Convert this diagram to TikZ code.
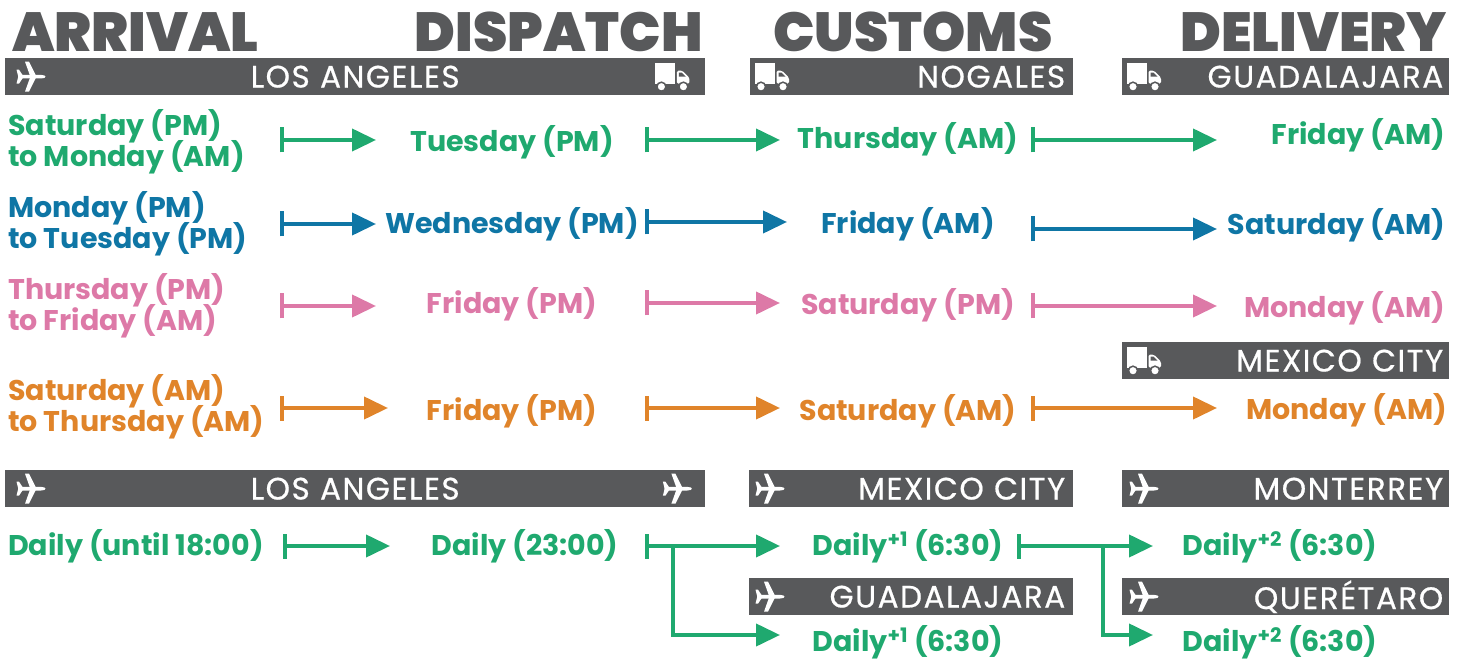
\documentclass[tikz,border=0pt]{standalone}
\usepackage{fontspec}
\setmainfont{Poppins}
\IfFontExistsTF{Poppins Black}
    {\newfontfamily\headfont{Poppins Black}}
    {\newfontfamily\headfont{Poppins ExtraBold}}
\newfontfamily\barfont{Poppins}[LetterSpace=5,FakeBold=0.6]
\usetikzlibrary{arrows.meta}
\definecolor{bargrey}{HTML}{58595B}
\definecolor{rgreen}{HTML}{1FA96F}
\definecolor{rblue}{HTML}{0F76A5}
\definecolor{rpink}{HTML}{DD79A7}
\definecolor{rorange}{HTML}{E0842A}
\begin{document}
\begin{tikzpicture}[x=1pt,y=-1pt,
    head/.style={font=\headfont\fontsize{55}{58}\selectfont,text=bargrey,
        inner sep=0pt,text depth=0pt},
    bar/.style={fill=bargrey,text=white,font=\barfont\fontsize{31}{33}\selectfont,
        minimum height=37pt,inner sep=0pt,anchor=north west},
    day/.style={font={\fontsize{28.5}{31}\selectfont\bfseries\lineskiplimit -20pt},
        inner sep=0pt,align=left},
    conn/.style={line width=4pt,{Bar[width=25pt]}-{Triangle[length=24pt,width=22pt]}},
    fork/.style={line width=4pt,-{Triangle[length=24pt,width=22pt]}},
    plane/.pic={
        \fill[white] (-15,-1.8) -- (8,-1.8) .. controls (14,-1.8) and (14,1.8) .. (8,1.8) -- (-15,1.8) -- cycle;
        \fill[white] (3,-1) -- (-4,-15) -- (-8,-15) -- (-3,-1) -- cycle;
        \fill[white] (3,1) -- (-4,15) -- (-8,15) -- (-3,1) -- cycle;
        \fill[white] (-10,-1) -- (-14,-7) -- (-16.5,-7) -- (-15,-1) -- cycle;
        \fill[white] (-10,1) -- (-14,7) -- (-16.5,7) -- (-15,1) -- cycle;},
    truck/.pic={
        \fill[white] (-17,-14) rectangle (3,7);
        \fill[white,rounded corners=1.5pt] (4.5,-6) -- (10,-6) -- (17,1) -- (17,7) -- (4.5,7) -- cycle;
        \fill[bargrey] (6.5,-4) -- (9.5,-4) -- (13.5,0) -- (6.5,0) -- cycle;
        \filldraw[fill=white,draw=bargrey,line width=1.5pt] (-11,10) circle (4.5);
        \filldraw[fill=white,draw=bargrey,line width=1.5pt] (11,10) circle (4.5);}]
\useasboundingbox (0,0) rectangle (1467,660);

\node[head,anchor=base west] (arrival) at (12,52) {ARRIVAL};
\node[head,anchor=base east] (dispatch) at (703,52) {DISPATCH};
\node[head,anchor=base west] (customs) at (773,52) {CUSTOMS};
\node[head,anchor=base east] (delivery) at (1447,52) {DELIVERY};

% truck routes
\node[bar,minimum width=700pt,text width=684pt,align=center] (la1) at (5,58) {LOS ANGELES};
\node[bar,minimum width=323pt,text width=307pt,align=right] (nog) at (750,58) {NOGALES};
\node[bar,minimum width=327pt,text width=315pt,align=right] (gdl1) at (1122,58) {GUADALAJARA};
\node[bar,minimum width=327pt,text width=315pt,align=right] (mex1) at (1122,342) {MEXICO CITY};
\pic at ([xshift=28pt]la1.west) {plane};
\pic at ([xshift=-33pt]la1.east) {truck};
\pic at ([xshift=22pt]nog.west) {truck};
\pic at ([xshift=22pt]gdl1.west) {truck};
\pic at ([xshift=22pt]mex1.west) {truck};

\node[day,text=rgreen,anchor=west] (ar1) at (8,142) {Saturday (PM)\\to Monday (AM)};
\node[day,text=rgreen] (di1) at (512,142) {Tuesday (PM)};
\node[day,text=rgreen] (cu1) at (908,139) {Thursday (AM)};
\node[day,text=rgreen,anchor=east] (de1) at (1445,135) {Friday (AM)};

\node[day,text=rblue,anchor=west] (ar2) at (8,224) {Monday (PM)\\to Tuesday (PM)};
\node[day,text=rblue] (di2) at (512,224) {Wednesday (PM)};
\node[day,text=rblue] (cu2) at (908,224) {Friday (AM)};
\node[day,text=rblue,anchor=east] (de2) at (1445,225) {Saturday (AM)};

\node[day,text=rpink,anchor=west] (ar3) at (8,306) {Thursday (PM)\\to Friday (AM)};
\node[day,text=rpink] (di3) at (512,304) {Friday (PM)};
\node[day,text=rpink] (cu3) at (908,305) {Saturday (PM)};
\node[day,text=rpink,anchor=east] (de3) at (1445,308) {Monday (AM)};

\node[day,text=rorange,anchor=west] (ar4) at (8,407) {Saturday (AM)\\to Thursday (AM)};
\node[day,text=rorange] (di4) at (512,411) {Friday (PM)};
\node[day,text=rorange] (cu4) at (908,411) {Saturday (AM)};
\node[day,text=rorange,anchor=east] (de4) at (1447,410) {Monday (AM)};

\coordinate (s1a) at (280,140); \coordinate (e1a) at (376,140);
\coordinate (s1b) at (645,140); \coordinate (e1b) at (780,140);
\coordinate (s1c) at (1031,140); \coordinate (e1c) at (1217,140);
\coordinate (s2a) at (280,224); \coordinate (e2a) at (376,224);
\coordinate (s2b) at (645,222); \coordinate (e2b) at (787,222);
\coordinate (s2c) at (1031,229); \coordinate (e2c) at (1217,229);
\coordinate (s3a) at (280,306); \coordinate (e3a) at (376,306);
\coordinate (s3b) at (645,303); \coordinate (e3b) at (780,303);
\coordinate (s3c) at (1031,306); \coordinate (e3c) at (1217,306);
\coordinate (s4a) at (280,408); \coordinate (e4a) at (388,408);
\coordinate (s4b) at (645,408); \coordinate (e4b) at (780,408);
\coordinate (s4c) at (1031,408); \coordinate (e4c) at (1217,408);

\draw[conn,rgreen] (s1a) -- (e1a);
\draw[conn,rgreen] (s1b) -- (e1b);
\draw[conn,rgreen] (s1c) -- (e1c);
\draw[conn,rblue] (s2a) -- (e2a);
\draw[conn,rblue] (s2b) -- (e2b);
\draw[conn,rblue] (s2c) -- (e2c);
\draw[conn,rpink] (s3a) -- (e3a);
\draw[conn,rpink] (s3b) -- (e3b);
\draw[conn,rpink] (s3c) -- (e3c);
\draw[conn,rorange] (s4a) -- (e4a);
\draw[conn,rorange] (s4b) -- (e4b);
\draw[conn,rorange] (s4c) -- (e4c);

% air routes
\node[bar,minimum width=700pt,text width=684pt,align=center] (la2) at (5,470) {LOS ANGELES};
\node[bar,minimum width=324pt,text width=308pt,align=right] (mex2) at (749,470) {MEXICO CITY};
\node[bar,minimum width=327pt,text width=315pt,align=right] (mty) at (1122,470) {MONTERREY};
\node[bar,minimum width=324pt,text width=308pt,align=right] (gdl2) at (749,578) {GUADALAJARA};
\node[bar,minimum width=327pt,text width=315pt,align=right] (qro) at (1122,578) {QUERÉTARO};
\pic at ([xshift=28pt]la2.west) {plane};
\pic at ([xshift=-26pt]la2.east) {plane};
\pic at ([xshift=23pt]mex2.west) {plane};
\pic at ([xshift=24pt]mty.west) {plane};
\pic at ([xshift=23pt]gdl2.west) {plane};
\pic at ([xshift=24pt]qro.west) {plane};

\node[day,text=rgreen,anchor=west] (ar5) at (8,546) {Daily (until 18:00)};
\node[day,text=rgreen] (di5) at (525,546) {Daily (23:00)};
\node[day,text=rgreen] (cu5) at (908,546) {Daily\textsuperscript{+1} (6:30)};
\node[day,text=rgreen] (cu6) at (908,642) {Daily\textsuperscript{+1} (6:30)};
\node[day,text=rgreen] (de5) at (1280,546) {Daily\textsuperscript{+2} (6:30)};
\node[day,text=rgreen] (de6) at (1280,642) {Daily\textsuperscript{+2} (6:30)};

\coordinate (s5a) at (283,546); \coordinate (e5a) at (390,546);
\coordinate (s5b) at (645,546); \coordinate (e5b) at (780,546);
\coordinate (k5b) at (673,546); \coordinate (f5b) at (780,635);
\coordinate (s5c) at (1017,546); \coordinate (e5c) at (1153,546);
\coordinate (k5c) at (1103,546); \coordinate (f5c) at (1153,635);

\draw[conn,rgreen] (s5a) -- (e5a);
\draw[conn,rgreen] (s5b) -- (e5b);
\draw[fork,rgreen] (k5b) |- (f5b);
\draw[conn,rgreen] (s5c) -- (e5c);
\draw[fork,rgreen] (k5c) |- (f5c);
\end{tikzpicture}
\end{document}
